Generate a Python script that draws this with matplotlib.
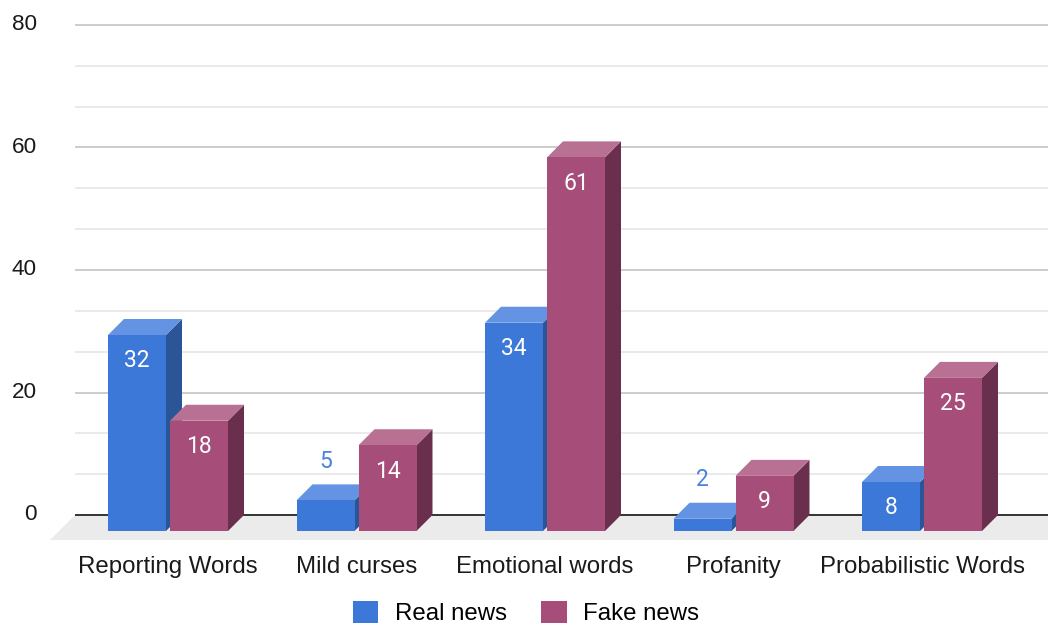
import numpy as np
import matplotlib.pyplot as plt
from matplotlib.patches import Polygon, Patch

categories = ['Reporting Words', 'Mild curses', 'Emotional words', 'Profanity', 'Probabilistic Words']
real_news = [32, 5, 34, 2, 8]
fake_news = [18, 14, 61, 9, 25]
series = [('Real news', real_news), ('Fake news', fake_news)]
y_ticks = [0, 20, 40, 60, 80]

# face colours: front, top, side
colors = {
    'Real news': ('#3c78d8', '#6393e2', '#2a5597'),
    'Fake news': ('#a64d79', '#b87193', '#6b2f4e'),
}

W, H = 1048, 628
fig = plt.figure(figsize=(W / 100, H / 100), dpi=100)
ax = fig.add_axes([0, 0, 1, 1])
ax.axis('off')

# pixel scale of the chart: 188.5 px per category, 6.125 px per unit
px_x, px_y = 188.5, 6.125
x0_px, y0_px = 184, 515
ax.set_xlim(-x0_px / px_x, (W - x0_px) / px_x)
ax.set_ylim((y0_px - H) / px_y, y0_px / px_y)

bar_w = 58 / px_x
gap = 4 / px_x
dx, dy = 16 / px_x, 16 / px_y          # bar depth
fx, fy = 25 / px_x, 25 / px_y          # floor depth
grid_left = (75 - x0_px) / px_x
xr = ax.get_xlim()[1] + 0.2

# gridlines
for k in range(1, 13):
    v = k * 20 / 3
    major = k % 3 == 0
    ax.hlines(v, grid_left, xr, color='#cccccc' if major else '#e6e6e6',
              lw=1.4 if major else 1.2, zorder=1)

# floor
ax.add_patch(Polygon([(grid_left, 0), (xr, 0), (xr - fx, -fy), (grid_left - fx, -fy)],
                     closed=True, facecolor='#ebebeb', edgecolor='none', zorder=1))
ax.hlines(0, grid_left, xr, color='#333333', lw=1.4, zorder=2)

# bars
x = np.arange(len(categories))
z = 3
for i in range(len(categories)):
    for s, (name, vals) in enumerate(series):
        front, top, side = colors[name]
        v = vals[i]
        xl = x[i] - bar_w - gap / 2 if s == 0 else x[i] + gap / 2
        xrr = xl + bar_w
        ax.add_patch(Polygon([(xrr - dx, -dy), (xrr, 0), (xrr, v), (xrr - dx, v - dy)],
                             closed=True, facecolor=side, edgecolor='none', zorder=z))
        ax.add_patch(Polygon([(xl - dx, v - dy), (xrr - dx, v - dy), (xrr, v), (xl, v)],
                             closed=True, facecolor=top, edgecolor='none', zorder=z))
        ax.bar(xl - dx, v, width=bar_w, bottom=-dy, align='edge', color=front,
               edgecolor='none', zorder=z + 0.5)
        cx = xl - dx + bar_w / 2
        if v < 6.5:
            ax.text(cx, v + 23 / px_y, str(v), ha='center', va='center',
                    fontsize=16.5, color='#4a82dc', family='Roboto', zorder=z + 1)
        else:
            ax.text(cx, v - dy - 26 / px_y, str(v), ha='center', va='center',
                    fontsize=16.5, color='white', family='Roboto', zorder=z + 1)
        z += 2

# y tick labels
for t in y_ticks:
    ax.text((37 - x0_px) / px_x, t, str(t), ha='right', va='center',
            fontsize=16.2, color='#1a1a1a', family='Liberation Sans')

# category labels
for i, c in enumerate(categories):
    ax.text(x[i] - dx, (y0_px - 573) / px_y, c, ha='center', va='baseline',
            fontsize=17.3, color='#1a1a1a', family='Liberation Sans')

handles = [Patch(facecolor=colors[n][0], edgecolor='none', label=n) for n, _ in series]
fig.legend(handles=handles, loc='center', bbox_to_anchor=(526 / W, 1 - 613 / H),
           ncol=2, frameon=False, handlelength=1.05, handleheight=1.05,
           handletextpad=0.7, columnspacing=1.45, borderpad=0,
           prop={'family': 'Liberation Sans', 'size': 17.3})

fig.savefig('out.png', dpi=100)
